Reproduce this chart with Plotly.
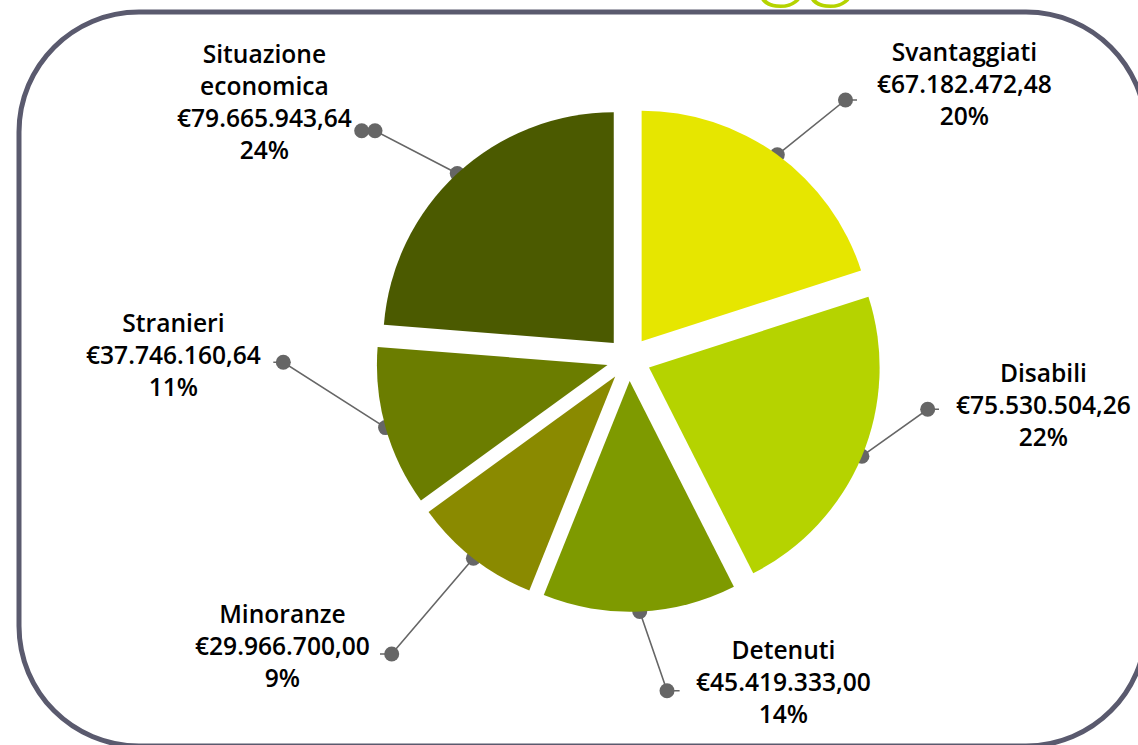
import math
import plotly.graph_objects as go

# ---------------- data ----------------
categories = ["Svantaggiati", "Disabili", "Detenuti", "Minoranze", "Stranieri", "Situazione<br>economica"]
amounts = [67182472.48, 75530504.26, 45419333.00, 29966700.00, 37746160.64, 79665943.64]
amount_labels = ["€67.182.472,48", "€75.530.504,26", "€45.419.333,00", "€29.966.700,00", "€37.746.160,64", "€79.665.943,64"]
percent_labels = ["20%", "22%", "14%", "9%", "11%", "24%"]
slice_colors = ["#E6E600", "#B5D300", "#7E9A00", "#8A8A00", "#6B7D00", "#4B5A00"]

# ---------------- layout constants (pixels) ----------------
W, H = 1138, 745
PIE_CX, PIE_CY, PIE_R = 628.7, 359.1, 230.6
PULL = 0.0954
# elbow point of leader line, stub end x, label centre, extra marker at stub end
label_layout = {
    "Svantaggiati": dict(elbow=(845.5, 100.0), stub=857.0, center=(964.5, 83.0), endmark=False),
    "Disabili": dict(elbow=(927.7, 409.3), stub=939.0, center=(1043.0, 404.0), endmark=False),
    "Detenuti": dict(elbow=(667.0, 690.7), stub=679.6, center=(783.8, 681.0), endmark=False),
    "Minoranze": dict(elbow=(391.7, 654.0), stub=380.0, center=(282.3, 645.0), endmark=False),
    "Stranieri": dict(elbow=(283.3, 362.3), stub=273.3, center=(173.3, 354.0), endmark=False),
    "Situazione<br>economica": dict(elbow=(375.0, 130.7), stub=361.7, center=(264.2, 101.0), endmark=True),
}
FONT = dict(family="Open Sans", size=24.6, color="#000000", weight=600)
LINE_COLOR = "#666666"

# pie domain so plotly draws radius PIE_R with the chosen pull
box = 2 * PIE_R * (1 + PULL)
dom_x = [(PIE_CX - box / 2) / W, (PIE_CX + box / 2) / W]
dom_y = [1 - (PIE_CY + box / 2) / H, 1 - (PIE_CY - box / 2) / H]

fig = go.Figure()
fig.add_trace(go.Pie(
    labels=categories, values=amounts, sort=False, direction="clockwise", rotation=0,
    marker=dict(colors=slice_colors, line=dict(width=0)),
    pull=[PULL] * len(amounts), textinfo="none", hoverinfo="label+value+percent",
    showlegend=False, domain=dict(x=dom_x, y=dom_y),
))

# leader lines computed from slice mid-angles
total = sum(amounts)
cum = 0.0
d = PULL * PIE_R
for cat, val, amt, pct in zip(categories, amounts, amount_labels, percent_labels):
    mid = (cum + val / 2) / total * 2 * math.pi
    cum += val
    ix = PIE_CX + (PIE_R + d) * math.sin(mid)
    iy = PIE_CY - (PIE_R + d) * math.cos(mid)
    lay = label_layout[cat]
    ex, ey = lay["elbow"]
    sx = lay["stub"]
    fig.add_trace(go.Scatter(x=[ix, ex, sx], y=[iy, ey, ey], mode="lines",
                             line=dict(color=LINE_COLOR, width=1.6), hoverinfo="skip", showlegend=False))
    mx = [ix, ex] + ([sx] if lay["endmark"] else [])
    my = [iy, ey] + ([ey] if lay["endmark"] else [])
    fig.add_trace(go.Scatter(x=mx, y=my, mode="markers",
                             marker=dict(color=LINE_COLOR, size=15), hoverinfo="skip", showlegend=False))
    cx, cy = lay["center"]
    fig.add_annotation(x=cx, y=cy, xref="x", yref="y", text=f"{cat}<br>{amt}<br>{pct}",
                       showarrow=False, font=FONT, align="center", xanchor="center", yanchor="middle")

# rounded frame
def rounded_rect(x0, y0, x1, y1, rad):
    k = 0.5523 * rad
    return (f"M {x0+rad},{y0} L {x1-rad},{y0} "
            f"C {x1-rad+k},{y0} {x1},{y0+rad-k} {x1},{y0+rad} "
            f"L {x1},{y1-rad} C {x1},{y1-rad+k} {x1-rad+k},{y1} {x1-rad},{y1} "
            f"L {x0+rad},{y1} C {x0+rad-k},{y1} {x0},{y1-rad+k} {x0},{y1-rad} "
            f"L {x0},{y0+rad} C {x0},{y0+rad-k} {x0+rad-k},{y0} {x0+rad},{y0} Z")

fig.add_shape(type="path", path=rounded_rect(19, 12, 1146, 746, 120), xref="x", yref="y",
              line=dict(color="#5A5A6E", width=5), fillcolor="rgba(0,0,0,0)", layer="below")

# clipped title (only descenders visible)
fig.add_annotation(x=806, y=13, xref="x", yref="y", text="gg", showarrow=False,
                   font=dict(family="Lato", size=98, color="#B5D300", weight=300),
                   xanchor="center", yanchor="bottom")

fig.update_layout(
    width=W, height=H, margin=dict(l=0, r=0, t=0, b=0),
    paper_bgcolor="white", plot_bgcolor="rgba(0,0,0,0)",
    xaxis=dict(range=[0, W], visible=False, fixedrange=True),
    yaxis=dict(range=[H, 0], visible=False, fixedrange=True),
)
fig.write_html("out.html", config={"displayModeBar": False},
               post_script="document.body.style.margin='0';document.body.style.overflow='hidden';")
